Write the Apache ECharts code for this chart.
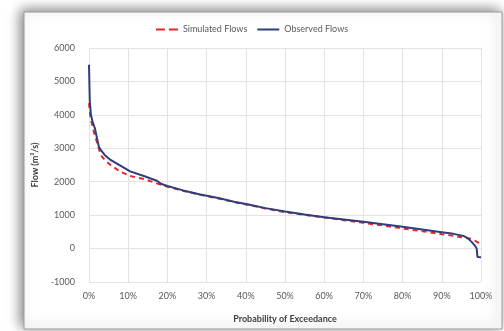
<!DOCTYPE html>
<html><head><meta charset="utf-8">
<script src="https://cdn.jsdelivr.net/npm/echarts@6/dist/echarts.min.js"></script>
<style>html,body{margin:0;padding:0;background:#fff}#c{width:504px;height:331px}</style>
</head><body><div id="c"></div>
<script>
var obsX = [0,0.2,0.5,0.9,1.5,2.5,3,4,5.5,8,10.5,14,17.3,18.5,20,24,28.4,33,37,41,45,50,55,60,65,70,75,80,85,90,93,95.5,96.5,97.6,98.5,98.9,99.1,100];
var obsY = [5500,4400,4000,3800,3600,3050,2950,2800,2650,2480,2310,2170,2030,1930,1870,1740,1620,1510,1400,1310,1210,1110,1020,940,870,800,730,650,570,490,440,380,320,200,80,0,-250,-260];
var simX = [0,0.3,0.6,1.2,1.6,2.5,3,4,5.5,8,10.5,14,17.3,20,24,28.4,33,37,41,45,50,55,60,65,70,75,80,85,90,93,95,97.5,99,100];
var simY = [4350,4000,3800,3500,3350,3000,2800,2650,2500,2300,2170,2080,1950,1850,1730,1610,1500,1390,1300,1200,1090,1010,930,850,770,690,600,520,430,380,340,290,200,120];
var xTicks = [0,10,20,30,40,50,60,70,80,90,100];
var yTicks = [-1000,0,1000,2000,3000,4000,5000,6000];

function pairs(xs, ys){ return xs.map(function(x,i){return [x, ys[i]];}); }
var font = 'Lato, "Open Sans", sans-serif';
var chart = echarts.init(document.getElementById('c'));
chart.setOption({
  animation:false,
  textStyle:{fontFamily:font},
  graphic:[{type:'rect', z:-10, shape:{x:24,y:12,width:478,height:317},
    style:{fill:'#fff', stroke:'#9a9a9a', lineWidth:1, shadowBlur:12, shadowColor:'rgba(0,0,0,0.5)', shadowOffsetX:-3, shadowOffsetY:-2}}],
  legend:{top:20, left:'center', itemGap:10, itemWidth:22, itemHeight:8, textStyle:{fontSize:9, color:'#595959', fontFamily:font},
    data:[{name:'Simulated Flows', icon:'path://M0,0H9V2H0Z M13,0H22V2H13Z'},{name:'Observed Flows', icon:'path://M0,0H22V2H0Z'}]},
  grid:{left:89, right:23, top:48, bottom:49},
  xAxis:{type:'value', min:0, max:100, interval:10,
    axisLine:{show:false}, axisTick:{show:false},
    splitLine:{show:true, lineStyle:{color:'#e3e3e3'}},
    axisLabel:{formatter:function(v){return xTicks.indexOf(v)>=0 ? v+'%' : '';}, fontSize:9, color:'#595959', margin:10},
    name:'Probability of Exceedance', nameLocation:'middle', nameGap:33,
    nameTextStyle:{fontSize:9, fontWeight:'bold', color:'#404040'}},
  yAxis:{type:'value', min:-1000, max:6000, interval:1000,
    axisLine:{show:false}, axisTick:{show:false},
    splitLine:{show:true, lineStyle:{color:'#e3e3e3'}},
    axisLabel:{formatter:function(v){return yTicks.indexOf(v)>=0 ? String(v) : '';}, fontSize:9, color:'#595959', margin:14},
    name:'Flow (m³/s)', nameLocation:'middle', nameGap:48, nameRotate:90,
    nameTextStyle:{fontSize:9, fontWeight:'bold', color:'#404040'}},
  series:[
    {name:'Simulated Flows', type:'line', showSymbol:false, symbol:'none', data:pairs(simX,simY), z:2,
      lineStyle:{color:'#e0282e', width:2, type:[5,4]}, itemStyle:{color:'#e0282e'}},
    {name:'Observed Flows', type:'line', showSymbol:false, symbol:'none', data:pairs(obsX,obsY), z:3,
      lineStyle:{color:'#2e3d7c', width:2}, itemStyle:{color:'#2e3d7c'}}
  ]
});
</script></body></html>
